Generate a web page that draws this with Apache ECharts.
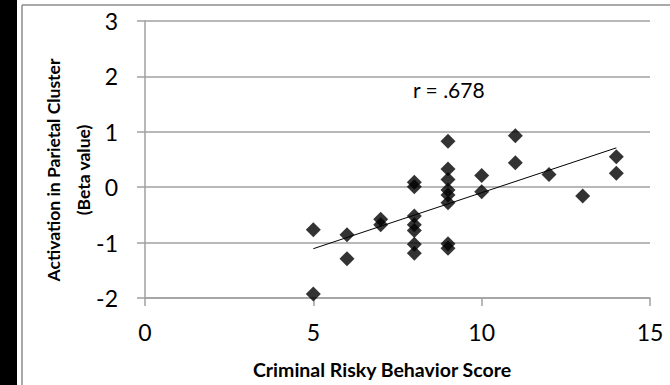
<!DOCTYPE html>
<html>
<head>
<meta charset="utf-8">
<script src="https://cdn.jsdelivr.net/npm/echarts@6/dist/echarts.min.js"></script>
<style>
html,body{margin:0;padding:0;background:#fff;}
#c{width:670px;height:385px;}
</style>
</head>
<body>
<div id="c"></div>
<script>
// Data
const scoreX = [5,5,6,6,7,7,8,8,8,8,8,8,8,9,9,9,9,9,9,9,9,10,10,11,11,12,13,14,14];
const betaY = [-0.77,-1.93,-0.86,-1.29,-0.58,-0.68,0.09,0.01,-0.52,-0.68,-0.78,-1.03,-1.19,0.83,0.33,0.14,-0.05,-0.14,-0.28,-1.02,-1.10,0.21,-0.08,0.93,0.44,0.23,-0.16,0.55,0.25];
const trendX = [5, 14];
const trendY = [-1.11, 0.71];
const xTicks = [0, 5, 10, 15];
const yTicks = [-2, -1, 0, 1, 2, 3];
const xTitle = 'Criminal Risky Behavior Score';
const yTitle = ['Activation in Parietal Cluster', '(Beta value)'];
const rLabel = 'r = .678';

const FONT = 'Lato';
const points = scoreX.map((x, i) => [x, betaY[i]]);
const trend = trendX.map((x, i) => [x, trendY[i]]);

const chart = echarts.init(document.getElementById('c'), null, {renderer: 'svg'});
chart.setOption({
  animation: false,
  backgroundColor: '#fff',
  grid: {left: 145, right: 20, top: 21, bottom: 87, containLabel: false},
  xAxis: {
    type: 'value', min: xTicks[0], max: xTicks[xTicks.length - 1], interval: 5,
    axisLine: {show: true, onZero: false, lineStyle: {color: '#a0a0a0', width: 1.5}},
    axisTick: {show: true, length: 8, lineStyle: {color: '#a0a0a0', width: 1.5}},
    splitLine: {show: false},
    axisLabel: {fontFamily: FONT, fontSize: 23, color: '#000', margin: 22}
  },
  yAxis: {
    type: 'value', min: yTicks[0], max: yTicks[yTicks.length - 1], interval: 1,
    axisLine: {show: true, onZero: false, lineStyle: {color: '#a0a0a0', width: 1.5}},
    axisTick: {show: true, length: 8, lineStyle: {color: '#a0a0a0', width: 1.5}},
    splitLine: {show: true, lineStyle: {color: '#a0a0a0', width: 1.5}},
    axisLabel: {fontFamily: FONT, fontSize: 23, color: '#000', margin: 27}
  },
  series: [
    {
      type: 'scatter', data: points, symbol: 'diamond', symbolSize: 15,
      itemStyle: {color: '#000'}, z: 3
    },
    {
      type: 'line', data: trend, symbol: 'none', showSymbol: false,
      lineStyle: {color: '#000', width: 1}, z: 4
    }
  ],
  graphic: [
    {type: 'rect', left: 0, top: 0, shape: {width: 17, height: 385}, style: {fill: '#000'}},
    {type: 'line', shape: {x1: 22, y1: 5, x2: 22, y2: 385}, style: {stroke: '#8c8c8c', lineWidth: 1.5}},
    {type: 'line', shape: {x1: 22, y1: 5, x2: 670, y2: 5}, style: {stroke: '#8c8c8c', lineWidth: 1.5}},
    {type: 'text', x: 382, y: 369, style: {text: xTitle, fontFamily: FONT, fontWeight: 'bold', fontSize: 19.5, fill: '#000', textAlign: 'center', textVerticalAlign: 'middle'}},
    {type: 'text', x: 68, y: 170, rotation: Math.PI / 2, style: {text: yTitle.join('\n'), fontFamily: FONT, fontWeight: 'bold', fontSize: 17.5, lineHeight: 30, fill: '#000', textAlign: 'center', textVerticalAlign: 'middle'}},
    {type: 'text', x: 413, y: 89, style: {text: rLabel, fontFamily: FONT, fontSize: 21, fill: '#000', textAlign: 'left', textVerticalAlign: 'middle'}}
  ]
});
</script>
</body>
</html>
